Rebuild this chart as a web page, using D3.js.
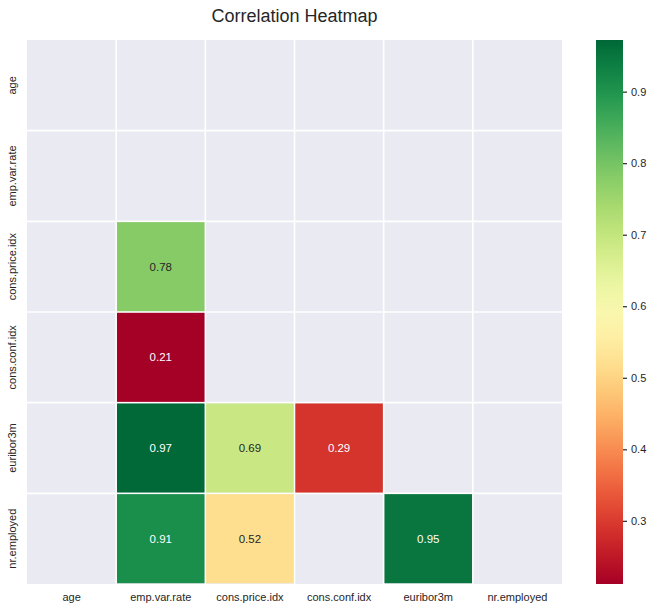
<!DOCTYPE html>
<html>
<head>
<meta charset="utf-8">
<script src="https://cdn.jsdelivr.net/npm/d3@7"></script>
<style>
  body { margin: 0; background: #fff; }
  text { font-family: "Liberation Sans", Arial, sans-serif; fill: #262626; }
</style>
</head>
<body>
<script>
// correlation values (lower triangle, shown cells only)
const labels = ['age', 'emp.var.rate', 'cons.price.idx', 'cons.conf.idx', 'euribor3m', 'nr.employed'];
const rowNames = ['cons.price.idx', 'cons.conf.idx', 'euribor3m', 'euribor3m', 'euribor3m', 'nr.employed', 'nr.employed', 'nr.employed'];
const colNames = ['emp.var.rate', 'emp.var.rate', 'emp.var.rate', 'cons.price.idx', 'cons.conf.idx', 'emp.var.rate', 'cons.price.idx', 'euribor3m'];
const values = [0.78, 0.21, 0.97, 0.69, 0.29, 0.91, 0.52, 0.95];
const cbarTicks = [0.3, 0.4, 0.5, 0.6, 0.7, 0.8, 0.9];

const width = 655, height = 611;
const plotLeft = 27, plotTop = 40, plotRight = 562, plotBottom = 584;

const cells = values.map((v, i) => ({ row: rowNames[i], col: colNames[i], value: v }));

const svg = d3.select('body').append('svg')
  .attr('width', width)
  .attr('height', height);

const x = d3.scaleBand().domain(labels).range([plotLeft, plotRight]);
const y = d3.scaleBand().domain(labels).range([plotTop, plotBottom]);

const vmin = 0.2117, vmax = 0.9722;
const color = d3.scaleSequential(d3.interpolateRdYlGn).domain([vmin, vmax]);

// axes background
svg.append('rect')
  .attr('x', plotLeft).attr('y', plotTop)
  .attr('width', plotRight - plotLeft).attr('height', plotBottom - plotTop)
  .attr('fill', '#eaeaf2');

// white grid on cell borders
const grid = svg.append('g').attr('stroke', '#fff').attr('stroke-width', 1.6);
labels.slice(1).forEach(l => {
  grid.append('line').attr('x1', x(l)).attr('x2', x(l)).attr('y1', plotTop).attr('y2', plotBottom);
  grid.append('line').attr('y1', y(l)).attr('y2', y(l)).attr('x1', plotLeft).attr('x2', plotRight);
});

svg.append('g').selectAll('rect')
  .data(cells)
  .join('rect')
  .attr('x', d => x(d.col) + 0.8)
  .attr('y', d => y(d.row) + 0.8)
  .attr('width', x.bandwidth() - 1.6)
  .attr('height', y.bandwidth() - 1.6)
  .attr('fill', d => color(d.value));

function textColor(c) {
  const rgb = d3.rgb(c);
  const lin = [rgb.r, rgb.g, rgb.b].map(v => {
    v /= 255;
    return v <= 0.03928 ? v / 12.92 : Math.pow((v + 0.055) / 1.055, 2.4);
  });
  const lum = 0.2126 * lin[0] + 0.7152 * lin[1] + 0.0722 * lin[2];
  return lum > 0.408 ? '#262626' : '#ffffff';
}

svg.append('g').selectAll('text')
  .data(cells)
  .join('text')
  .attr('x', d => x(d.col) + x.bandwidth() / 2)
  .attr('y', d => y(d.row) + y.bandwidth() / 2)
  .attr('text-anchor', 'middle')
  .attr('dominant-baseline', 'central')
  .style('font-size', '11.5px')
  .style('fill', d => textColor(color(d.value)))
  .text(d => d.value.toFixed(2));

// tick labels
const xAxis = d3.axisBottom(x).tickSize(0).tickPadding(9);
const gx = svg.append('g').attr('transform', `translate(0,${plotBottom})`).call(xAxis);
gx.select('.domain').remove();
gx.selectAll('text').style('font-size', '11px').style('fill', '#262626').attr('font-family', null);

const gy = svg.append('g');
gy.selectAll('text')
  .data(labels)
  .join('text')
  .attr('transform', d => `translate(16,${y(d) + y.bandwidth() / 2}) rotate(-90)`)
  .attr('text-anchor', 'middle')
  .style('font-size', '11px')
  .text(d => d);

// title
svg.append('text')
  .attr('x', (plotLeft + plotRight) / 2)
  .attr('y', 22)
  .attr('text-anchor', 'middle')
  .style('font-size', '18px')
  .text('Correlation Heatmap');

// colorbar
const cbX = 596, cbW = 27;
const cbScale = d3.scaleLinear().domain([vmin, vmax]).range([plotBottom, plotTop]);
const defs = svg.append('defs');
const grad = defs.append('linearGradient')
  .attr('id', 'cbar')
  .attr('x1', 0).attr('y1', 1).attr('x2', 0).attr('y2', 0);
d3.range(0, 1.0001, 0.05).forEach(t => {
  grad.append('stop')
    .attr('offset', t)
    .attr('stop-color', color(vmin + t * (vmax - vmin)));
});
svg.append('rect')
  .attr('x', cbX).attr('y', plotTop)
  .attr('width', cbW).attr('height', plotBottom - plotTop)
  .attr('fill', 'url(#cbar)');

const cbAxis = d3.axisRight(cbScale).tickValues(cbarTicks).tickSize(4).tickPadding(4).tickFormat(d3.format('.1f'));
const gcb = svg.append('g').attr('transform', `translate(${cbX + cbW},0)`).call(cbAxis);
gcb.select('.domain').remove();
gcb.selectAll('line').attr('stroke', '#262626').attr('stroke-width', 1.2);
gcb.selectAll('text').style('font-size', '11px').style('fill', '#262626').attr('font-family', null);
</script>
</body>
</html>
